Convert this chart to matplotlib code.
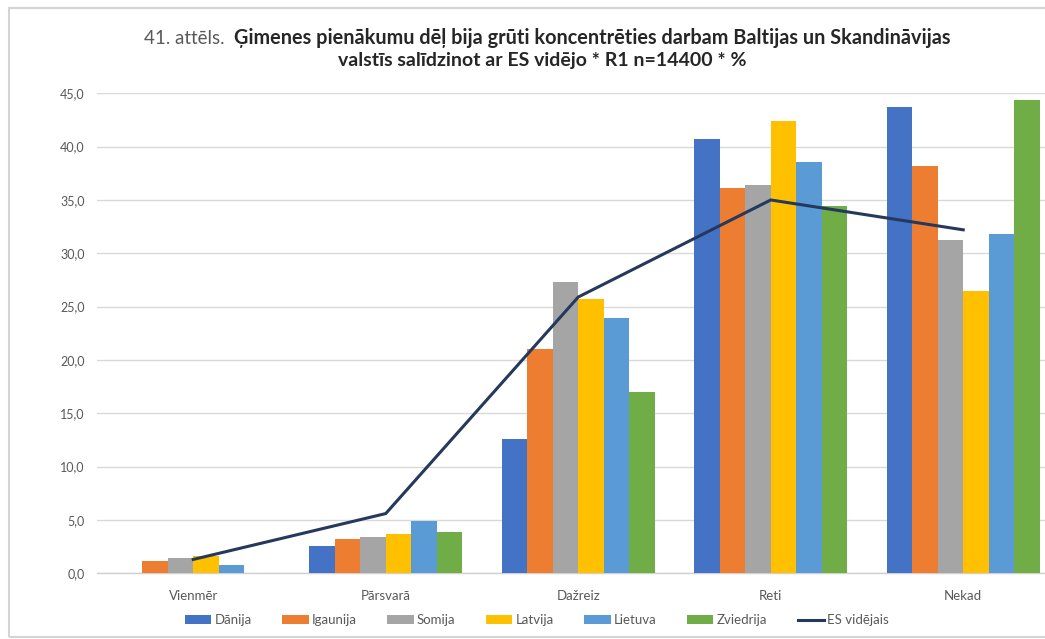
import numpy as np
import matplotlib
matplotlib.use("Agg")
import matplotlib.pyplot as plt
from matplotlib.patches import Patch, Rectangle
from matplotlib.lines import Line2D

plt.rcParams['font.family'] = ['Lato', 'DejaVu Sans']

categories = ["Vienmēr", "Pārsvarā", "Dažreiz", "Reti", "Nekad"]
series_names = ["Dānija", "Igaunija", "Somija", "Latvija", "Lietuva", "Zviedrija"]
danija = [0.0, 2.6, 12.6, 40.7, 43.7]
igaunija = [1.2, 3.2, 21.0, 36.1, 38.2]
somija = [1.4, 3.4, 27.3, 36.4, 31.2]
latvija = [1.6, 3.7, 25.7, 42.4, 26.5]
lietuva = [0.8, 4.9, 23.9, 38.6, 31.8]
zviedrija = [0.0, 3.9, 17.0, 34.4, 44.4]
es_videjais = [1.3, 5.6, 25.9, 35.0, 32.2]
line_name = "ES vidējais"
y_ticks = [0, 5, 10, 15, 20, 25, 30, 35, 40, 45]

series = [danija, igaunija, somija, latvija, lietuva, zviedrija]
colors = ["#4472C4", "#ED7D31", "#A5A5A5", "#FFC000", "#5B9BD5", "#70AD47"]
line_color = "#25395C"
text_gray = "#595959"

W, H = 1045, 639
fig = plt.figure(figsize=(W / 100, H / 100), dpi=100)
fig.patch.set_facecolor("white")

# outer chart frame
fig.patches.append(Rectangle((9 / W, 2 / H), 1.2, (637 - 8) / H,
                             transform=fig.transFigure, fill=False,
                             edgecolor="#d4d4d4", linewidth=1.5))

ax_left, ax_right = 97, 1059.5
ax_top, ax_bottom = 93.3, 573.3
ax = fig.add_axes([ax_left / W, (H - ax_bottom) / H,
                   (ax_right - ax_left) / W, (ax_bottom - ax_top) / H])

x = np.arange(len(categories))
bw = 0.1325
n = len(series)
for i, (vals, c, name) in enumerate(zip(series, colors, series_names)):
    offs = (i - (n - 1) / 2) * bw
    ax.bar(x + offs, vals, width=bw, color=c, label=name, zorder=3)

ax.plot(x, es_videjais, color=line_color, linewidth=2.2, zorder=4,
        solid_joinstyle="miter", label=line_name)

ax.set_xlim(-0.5, len(categories) - 0.5)
ax.set_ylim(0, 45)
ax.set_yticks(y_ticks)
ax.set_yticklabels([f"{v:.1f}".replace(".", ",") for v in y_ticks])
ax.set_xticks(x)
ax.set_xticklabels(categories)
ax.tick_params(axis="y", length=0, pad=9, labelsize=9, labelcolor=text_gray)
ax.tick_params(axis="x", length=0, pad=12, labelsize=9.5, labelcolor=text_gray)
ax.grid(axis="y", color="#d9d9d9", linewidth=1.0, zorder=0)
for s in ["top", "right", "left"]:
    ax.spines[s].set_visible(False)
ax.spines["bottom"].set_color("#d0d0d0")
ax.spines["bottom"].set_linewidth(1.0)

# title
fig.text(224 / W, 1 - 44 / H, "41. attēls.", ha="right", va="baseline",
         fontsize=13.5, color=text_gray)
fig.text(234 / W, 1 - 44 / H,
         "Ģimenes pienākumu dēļ bija grūti koncentrēties darbam Baltijas un Skandināvijas",
         ha="left", va="baseline", fontsize=14.3, fontweight="bold", color="#262626")
fig.text(542 / W, 1 - 66 / H, "valstīs salīdzinot ar ES vidējo * R1 n=14400 * %",
         ha="center", va="baseline", fontsize=14.0, fontweight="bold", color="#262626")

handles = [Patch(facecolor=c, edgecolor="none") for c in colors]
handles.append(Line2D([0], [0], color=line_color, linewidth=2.2))
labels = series_names + [line_name]
fig.legend(handles, labels, loc="center", bbox_to_anchor=(537 / W, 1 - 620 / H),
           ncol=7, frameon=False, fontsize=9.5, labelcolor=text_gray,
           handlelength=2.0, handleheight=0.6, handletextpad=0.25,
           columnspacing=2.3)

fig.savefig("out.png", dpi=100, facecolor="white")
